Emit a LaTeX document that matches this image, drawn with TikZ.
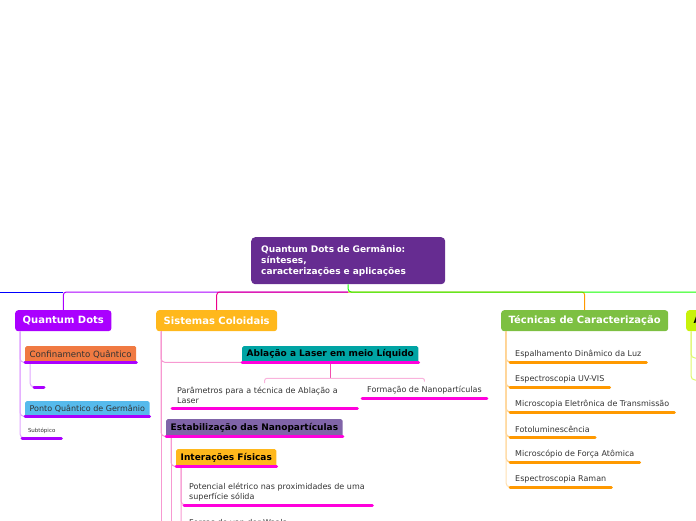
\documentclass[tikz,border=0pt]{standalone}
\usepackage{fontspec}
\setmainfont{DejaVu Sans}
\usetikzlibrary{calc}
\definecolor{rootcolor}{RGB}{102,44,145}
\definecolor{qdcolor}{RGB}{170,0,255}
\definecolor{siscolor}{RGB}{255,184,28}
\definecolor{teccolor}{RGB}{125,192,66}
\definecolor{aplcolor}{RGB}{200,242,10}
\definecolor{confcolor}{RGB}{240,122,66}
\definecolor{pontocolor}{RGB}{86,186,236}
\definecolor{ablcolor}{RGB}{0,164,164}
\definecolor{estcolor}{RGB}{128,100,168}
\definecolor{magline}{RGB}{255,0,220}
\definecolor{oraline}{RGB}{255,153,0}
\definecolor{txtgray}{RGB}{51,51,51}

\begin{document}
\begin{tikzpicture}[x=1pt, y=-1pt,
    topic/.style={anchor=north west, fill=#1, rounded corners=3pt, inner xsep=7.5pt,
      inner ysep=0pt, minimum height=21pt, text=white,
      font=\bfseries\fontsize{10}{12}\selectfont},
    subbox/.style={anchor=north west, fill=#1, rounded corners=1.5pt, inner xsep=4.5pt,
      inner ysep=0pt, minimum height=16pt, text=black,
      font=\bfseries\fontsize{9}{11}\selectfont},
    leaf/.style={anchor=south west, inner xsep=5pt, inner ysep=4pt, text=txtgray,
      align=left, font=\fontsize{8}{10}\selectfont},
    uline/.style={line width=3pt, line cap=round, #1},
    kid/.style={line width=1pt, rounded corners=4pt, #1}]
  \useasboundingbox (0,0) rectangle (696,520);
  \clip (0,0) rectangle (696,520);
  % --- root ---
  \node[anchor=north west, fill=rootcolor, rounded corners=4pt, text=white,
        font=\bfseries\fontsize{9}{11}\selectfont, align=left, text width=174pt,
        inner xsep=10pt, inner ysep=0pt, minimum height=47pt] (root) at (251,237)
    {Quantum Dots de Germânio:\\sínteses,\\caracterizações e aplicações};
  % --- main topics ---
  \node[topic=qdcolor] (qd) at (15,310) {Quantum Dots};
  \node[topic=siscolor] (sis) at (156,310) {Sistemas Coloidais};
  \node[topic=teccolor] (tec) at (501,310) {Técnicas de Caracterização};
  \node[topic=aplcolor, text=black] (apl) at (686,310) {Aplicações};
  % --- main line ---
  \coordinate (mainy) at (0,292);
  \coordinate (hub) at (root.south |- mainy);
  \coordinate (offleft) at (-30,292);
  \draw[line width=1pt, qdcolor, rounded corners=3pt] (hub) -| (qd.north);
  \draw[line width=1pt, magenta, rounded corners=3pt] (hub) -| (sis.north);
  \draw[line width=1pt, blue] (qd.north |- mainy) -- (offleft);
  \draw[line width=1pt, oraline, rounded corners=3pt] (hub) -| (tec.north);
  \draw[line width=1pt, green!90!lime, rounded corners=3pt] (root.south) -- (hub) -| (apl.north);
  % --- Quantum Dots ---
  \node[subbox=confcolor, text=txtgray, font=\fontsize{8.6}{10}\selectfont] (conf) at (25,346) {Confinamento Quântico};
  \node[subbox=pontocolor, text=txtgray, font=\fontsize{8}{10}\selectfont, minimum height=15pt] (ponto) at (25,401) {Ponto Quântico de Germânio};
  \node[leaf, font=\fontsize{5.5}{7}\selectfont, minimum width=39pt, inner xsep=3pt] (subt) at (22,438) {Subtópico};
  \coordinate (confkid) at (34,387);
  \coordinate (confkidend) at (44,387);
  \draw[kid=qdcolor!35] ([xshift=5pt]qd.south west) |- (conf.south west);
  \draw[kid=qdcolor!35] ([xshift=5pt]qd.south west) |- (ponto.south west);
  \draw[kid=qdcolor!35] ([xshift=5pt]qd.south west) |- (subt.south west);
  \draw[kid=qdcolor!35] ([xshift=5pt]conf.south west) |- (confkid);
  \draw[uline=qdcolor] (conf.south west) -- (conf.south east);
  \draw[uline=qdcolor] (ponto.south west) -- (ponto.south east);
  \draw[uline=qdcolor] (subt.south west) -- (subt.south east);
  \draw[uline=qdcolor] (confkid) -- (confkidend);
  % --- Sistemas Coloidais ---
  \node[subbox=ablcolor] (abl) at (242,346) {Ablação a Laser em meio Líquido};
  \node[leaf, text width=175pt] (par) at (172,408) {Parâmetros para a técnica de Ablação a Laser};
  \node[leaf] (form) at (362,398) {Formação de Nanopartículas};
  \node[subbox=estcolor, minimum height=17pt] (estab) at (166,419) {Estabilização das Nanopartículas};
  \node[subbox=siscolor, minimum height=17pt] (inter) at (176,449) {Interações Físicas};
  \node[leaf, text width=178pt] (pot) at (184,505) {Potencial elétrico nas proximidades de uma superfície sólida};
  \node[leaf] (forcas) at (184,531) {Forças de van der Waals};
  \coordinate (sisdown) at (161,540);
  \coordinate (estdown) at (171,540);
  \coordinate (ablfork) at ($(abl.south)+(0,16)$);
  \draw[kid=magenta!40] ([xshift=5pt]sis.south west) |- (abl.south west);
  \draw[kid=magenta!40] ([xshift=5pt]sis.south west) |- (estab.south west);
  \draw[kid=magenta!40] ([xshift=5pt]sis.south west) -- (sisdown);
  \draw[kid=magenta!70] (abl.south) -- (ablfork);
  \draw[kid=magenta!30, rounded corners=2pt] (par.north) |- (ablfork) -| (form.north);
  \draw[kid=magenta!40] ([xshift=5pt]estab.south west) |- (inter.south west);
  \draw[kid=magenta!40] ([xshift=5pt]estab.south west) -- (estdown);
  \draw[kid=magenta!40] ([xshift=5pt]inter.south west) |- (pot.south west);
  \draw[kid=magenta!40] ([xshift=5pt]inter.south west) |- (forcas.south west);
  \draw[uline=magline] (abl.south west) -- (abl.south east);
  \draw[uline=magline] (par.south west) -- (par.south east);
  \draw[uline=magline] (form.south west) -- (form.south east);
  \draw[uline=magline] (estab.south west) -- (estab.south east);
  \draw[uline=magline] (inter.south west) -- (inter.south east);
  \draw[uline=magline] (pot.south west) -- (pot.south east);
  % --- Técnicas de Caracterização ---
  \node[leaf] (dls) at (510,362) {Espalhamento Dinâmico da Luz};
  \node[leaf] (uvvis) at (510,387) {Espectroscopia UV-VIS};
  \node[leaf] (met) at (510,412) {Microscopia Eletrônica de Transmissão};
  \node[leaf] (foto) at (510,437) {Fotoluminescência};
  \node[leaf] (afm) at (510,462) {Microscópio de Força Atômica};
  \node[leaf] (raman) at (510,487) {Espectroscopia Raman};
  \draw[kid=oraline!55] ([xshift=5pt]tec.south west) |- (dls.south west);
  \draw[kid=oraline!55] ([xshift=5pt]tec.south west) |- (uvvis.south west);
  \draw[kid=oraline!55] ([xshift=5pt]tec.south west) |- (met.south west);
  \draw[kid=oraline!55] ([xshift=5pt]tec.south west) |- (foto.south west);
  \draw[kid=oraline!55] ([xshift=5pt]tec.south west) |- (afm.south west);
  \draw[kid=oraline!30] ([xshift=5pt]tec.south west) |- (raman.south west);
  \draw[uline=oraline] (dls.south west) -- (dls.south east);
  \draw[uline=oraline] (uvvis.south west) -- (uvvis.south east);
  \draw[uline=oraline] (met.south west) -- (met.south east);
  \draw[uline=oraline] (foto.south west) -- (foto.south east);
  \draw[uline=oraline] (afm.south west) -- (afm.south east);
  \draw[uline=oraline] (raman.south west) -- (raman.south east);
  % --- Aplicações ---
  \coordinate (aplkid1) at (704,358);
  \coordinate (aplkid2) at (704,380);
  \draw[kid=aplcolor!60] ([xshift=5pt]apl.south west) |- (aplkid1);
  \draw[kid=aplcolor!60] ([xshift=5pt]apl.south west) |- (aplkid2);
\end{tikzpicture}
\end{document}
